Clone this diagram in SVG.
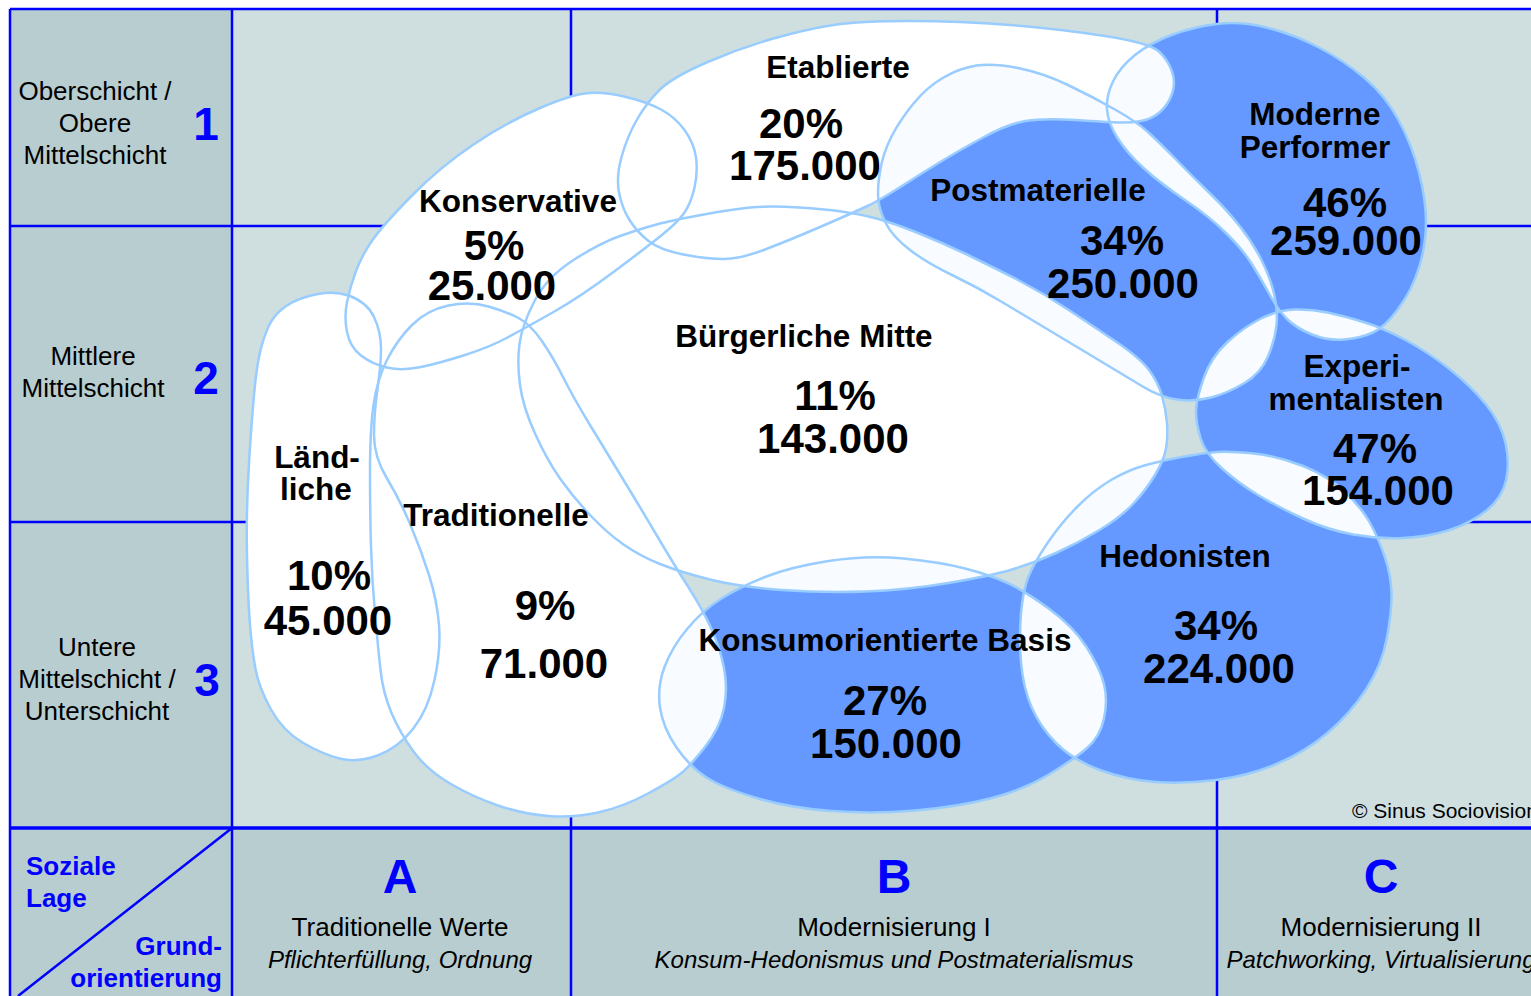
<svg xmlns="http://www.w3.org/2000/svg" width="1531" height="996" viewBox="0 0 1531 996">
<style>
.grid{stroke:#0000ff;stroke-width:2.5;fill:none}
.w{fill:#ffffff}
.b{fill:#6699ff}
.ov{fill:#f8fbff}
.ol{fill:none;stroke:#99ccff;stroke-width:2.5}
text{font-family:"Liberation Sans",Arial,Helvetica,sans-serif}
.lbl{font-size:31.5px;font-weight:bold;fill:#000;text-anchor:middle}
.num{font-size:42px;font-weight:bold;fill:#000;text-anchor:middle}
.side{font-size:26px;fill:#000;text-anchor:middle}
.rank{font-size:46px;font-weight:bold;fill:#0000ff;text-anchor:middle}
.col{font-size:48px;font-weight:bold;fill:#0000ff;text-anchor:middle}
.colt{font-size:26px;fill:#000;text-anchor:middle}
.coli{font-size:24px;font-style:italic;fill:#000;text-anchor:middle}
.corner{font-size:26px;font-weight:bold;fill:#0000ff}
.copy{font-size:21px;fill:#000}
</style>
<defs>
<path id="p-etab" d="M637,119.5 Q647,102 660,89.5 Q673,77 706.5,62.5 Q740,48 773.5,38.5 Q807,29 833.5,25 Q860,21 910,21 Q960,21 1010,25 Q1060,29 1105,36 Q1150,43 1159,51.5 Q1168,60 1172,71.5 Q1176,83 1172,94 Q1168,105 1160,112 Q1152,119 1141,121 Q1130,123 1119,122.5 Q1108,122 1075.5,120 Q1043,118 1025.5,121 Q1008,124 984,137 Q960,150 943.5,160 Q927,170 903.5,185 Q880,200 868.5,205.5 Q857,211 823.5,225.5 Q790,240 765,249.5 Q740,259 723.5,259 Q707,259 683.5,254.5 Q660,250 648.5,241 Q637,232 629.5,220 Q622,208 619,192.5 Q616,177 621.5,157 Q627,137 637,119.5 Z"/>
<path id="p-kons" d="M347,302 Q350,287 356,271 Q362,255 372.5,240 Q383,225 411.5,196 Q440,167 473.5,144.5 Q507,122 540,108 Q573,94 589,93 Q605,92 626,97 Q647,102 661,109.5 Q675,117 684.5,130 Q694,143 696,157.5 Q698,172 694.5,187.5 Q691,203 684.5,212.5 Q678,222 662.5,234.5 Q647,247 613.5,272 Q580,297 553.5,312 Q527,327 508.5,337 Q490,347 465,355 Q440,363 421,367 Q402,371 387,367.5 Q372,364 361,355.5 Q350,347 347,332 Q344,317 347,302 Z"/>
<path id="p-laen" d="M304,297.5 Q330,289 348.5,295.5 Q367,302 374,317 Q381,332 381,348.5 Q381,365 377.5,389 Q374,413 374,435 Q374,457 387,478.5 Q400,500 410.5,525 Q421,550 429,575 Q437,600 439,625 Q441,650 434.5,680 Q428,710 413,729 Q398,748 377.5,755.5 Q357,763 339.5,758.5 Q322,754 302.5,742.5 Q283,731 271,709.5 Q259,688 255.5,669 Q252,650 250,625 Q248,600 247,556.5 Q246,513 249,463 Q252,413 255.5,380 Q259,347 268.5,326.5 Q278,306 304,297.5 Z"/>
<path id="p-trad" d="M448.5,305.5 Q470,301 488.5,306.5 Q507,312 518.5,318 Q530,324 541.5,340.5 Q553,357 563,377 Q573,397 590,425 Q607,453 623.5,480 Q640,507 656.5,535 Q673,563 688,586.5 Q703,610 711.5,629 Q720,648 724,668 Q728,688 724,708 Q720,728 705,747 Q690,766 681.5,773 Q673,780 648,793.5 Q623,807 598,812.5 Q573,818 548,816 Q523,814 498,805.5 Q473,797 450,783.5 Q427,770 413.5,751.5 Q400,733 391.5,713 Q383,693 380.5,670 Q378,647 375,613.5 Q372,580 371,546.5 Q370,513 370,471.5 Q370,430 373.5,405 Q377,380 387,360 Q397,340 412,325 Q427,310 448.5,305.5 Z"/>
<path id="p-mitte" d="M534.5,301 Q547,277 573.5,260 Q600,243 620,236 Q640,229 656.5,224.5 Q673,220 706.5,214 Q740,208 757.5,207 Q775,206 799,207.5 Q823,209 841.5,211.5 Q860,214 876.5,218.5 Q893,223 918,233 Q943,243 968,255 Q993,267 1018,280 Q1043,293 1068,309.5 Q1093,326 1116.5,342 Q1140,358 1149,370 Q1158,382 1162,396 Q1166,410 1167,423.5 Q1168,437 1166,448.5 Q1164,460 1155,475 Q1146,490 1133.5,503.5 Q1121,517 1099.5,530 Q1078,543 1056,553 Q1034,563 1012,569.5 Q990,576 948.5,583 Q907,590 865,591.5 Q823,593 781.5,590 Q740,587 710,579.5 Q680,572 660,564 Q640,556 623.5,544.5 Q607,533 590,515 Q573,497 560,478.5 Q547,460 535,433.5 Q523,407 520,385 Q517,363 519.5,344 Q522,325 534.5,301 Z"/>
<path id="p-post" d="M878.5,201 Q877,190 880,171.5 Q883,153 891.5,136.5 Q900,120 913.5,103.5 Q927,87 943.5,77.5 Q960,68 976.5,65.5 Q993,63 1018,68 Q1043,73 1068,85 Q1093,97 1115,109.5 Q1137,122 1148.5,132.5 Q1160,143 1176.5,160 Q1193,177 1210,193.5 Q1227,210 1240,226.5 Q1253,243 1261.5,260 Q1270,277 1274,293.5 Q1278,310 1276.5,325 Q1275,340 1268,356.5 Q1261,373 1244.5,383 Q1228,393 1211,397.5 Q1194,402 1177,399.5 Q1160,397 1143.5,387 Q1127,377 1102,362 Q1077,347 1052,332 Q1027,317 1002,302 Q977,287 952,275 Q927,263 910,250 Q893,237 886.5,224.5 Q880,212 878.5,201 Z"/>
<path id="p-mp" d="M1135,55 Q1150,43 1171.5,35 Q1193,27 1216.5,24 Q1240,21 1266.5,27.5 Q1293,34 1318,47 Q1343,60 1364,77.5 Q1385,95 1398.5,120 Q1412,145 1419,172.5 Q1426,200 1426,222.5 Q1426,245 1419,267.5 Q1412,290 1398.5,308.5 Q1385,327 1373,332.5 Q1361,338 1344.5,339.5 Q1328,341 1312,334.5 Q1296,328 1287,319 Q1278,310 1269,293.5 Q1260,277 1251.5,263.5 Q1243,250 1226.5,233.5 Q1210,217 1185,200 Q1160,183 1143.5,168 Q1127,153 1117.5,138 Q1108,123 1107,109.5 Q1106,96 1113,81.5 Q1120,67 1135,55 Z"/>
<path id="p-exp" d="M1261,318.5 Q1278,310 1294.5,309.5 Q1311,309 1327.5,312.5 Q1344,316 1363.5,322 Q1383,328 1405.5,340 Q1428,352 1449.5,369 Q1471,386 1486,404.5 Q1501,423 1505.5,443 Q1510,463 1506,480.5 Q1502,498 1486.5,510.5 Q1471,523 1449.5,530 Q1428,537 1403,538 Q1378,539 1353,534.5 Q1328,530 1303,518.5 Q1278,507 1258,495 Q1238,483 1221.5,468 Q1205,453 1200.5,438 Q1196,423 1196,411.5 Q1196,400 1203.5,378.5 Q1211,357 1227.5,342 Q1244,327 1261,318.5 Z"/>
<path id="p-hed" d="M1028.5,576.5 Q1034,563 1047.5,543 Q1061,523 1077.5,506.5 Q1094,490 1111,480 Q1128,470 1146,465 Q1164,460 1184,456.5 Q1204,453 1217,452 Q1230,451 1254,453.5 Q1278,456 1303,466 Q1328,476 1344.5,491.5 Q1361,507 1369.5,522 Q1378,537 1384.5,556 Q1391,575 1391.5,592.5 Q1392,610 1387,637.5 Q1382,665 1366,689.5 Q1350,714 1327.5,733 Q1305,752 1276.5,764 Q1248,776 1216,780 Q1184,784 1155.5,782 Q1127,780 1100,770 Q1073,760 1056.5,743.5 Q1040,727 1031.5,707 Q1023,687 1021,662 Q1019,637 1021,613.5 Q1023,590 1028.5,576.5 Z"/>
<path id="p-kb" d="M687.5,628.5 Q703,610 721.5,598.5 Q740,587 765,577 Q790,567 828.5,561 Q867,555 903.5,558.5 Q940,562 965,568.5 Q990,575 1006.5,582.5 Q1023,590 1048,608 Q1073,626 1086.5,647 Q1100,668 1104,684 Q1108,700 1104,718.5 Q1100,737 1086.5,748.5 Q1073,760 1048,775 Q1023,790 990,798.5 Q957,807 915,810.5 Q873,814 831.5,811 Q790,808 756.5,798 Q723,788 706.5,777.5 Q690,767 676.5,747.5 Q663,728 660,707.5 Q657,687 664.5,667 Q672,647 687.5,628.5 Z"/>
<clipPath id="c-post"><use href="#p-etab"/><use href="#p-kons"/><use href="#p-laen"/><use href="#p-trad"/><use href="#p-mitte"/><use href="#p-mp"/><use href="#p-exp"/><use href="#p-hed"/><use href="#p-kb"/></clipPath>
<clipPath id="c-mp"><use href="#p-etab"/><use href="#p-kons"/><use href="#p-laen"/><use href="#p-trad"/><use href="#p-mitte"/><use href="#p-post"/><use href="#p-exp"/><use href="#p-hed"/><use href="#p-kb"/></clipPath>
<clipPath id="c-exp"><use href="#p-etab"/><use href="#p-kons"/><use href="#p-laen"/><use href="#p-trad"/><use href="#p-mitte"/><use href="#p-post"/><use href="#p-mp"/><use href="#p-hed"/><use href="#p-kb"/></clipPath>
<clipPath id="c-hed"><use href="#p-etab"/><use href="#p-kons"/><use href="#p-laen"/><use href="#p-trad"/><use href="#p-mitte"/><use href="#p-post"/><use href="#p-mp"/><use href="#p-exp"/><use href="#p-kb"/></clipPath>
<clipPath id="c-kb"><use href="#p-etab"/><use href="#p-kons"/><use href="#p-laen"/><use href="#p-trad"/><use href="#p-mitte"/><use href="#p-post"/><use href="#p-mp"/><use href="#p-exp"/><use href="#p-hed"/></clipPath>
</defs>

<g id="background">
<rect x="0" y="0" width="1531" height="996" fill="#ffffff"/>
<rect x="10" y="9" width="1521" height="987" fill="#cfdfe0"/>
<rect x="10" y="9" width="222" height="819" fill="#b8cdd0"/>
<rect x="10" y="828" width="1521" height="168" fill="#b8cdd0"/>
</g>
<g id="grid">
<path class="grid" d="M10,9H1531 M10,9V996 M232,9V996 M571,9V996 M1217,9V996 M10,226H1531 M10,522H1531 M232,828L18,996"/>
<path d="M10,828H1531" stroke="#0000ff" stroke-width="3.5" fill="none"/>
</g>

<g id="milieu-fills">
<use href="#p-etab" class="w"/>
<use href="#p-kons" class="w"/>
<use href="#p-laen" class="w"/>
<use href="#p-trad" class="w"/>
<use href="#p-mitte" class="w"/>
<use href="#p-post" class="b"/>
<use href="#p-mp" class="b"/>
<use href="#p-exp" class="b"/>
<use href="#p-hed" class="b"/>
<use href="#p-kb" class="b"/>
</g>
<g id="milieu-overlaps">
<use href="#p-post" class="ov" clip-path="url(#c-post)"/>
<use href="#p-mp" class="ov" clip-path="url(#c-mp)"/>
<use href="#p-exp" class="ov" clip-path="url(#c-exp)"/>
<use href="#p-hed" class="ov" clip-path="url(#c-hed)"/>
<use href="#p-kb" class="ov" clip-path="url(#c-kb)"/>
</g>
<g id="milieu-outlines">
<use href="#p-etab" class="ol"/>
<use href="#p-kons" class="ol"/>
<use href="#p-laen" class="ol"/>
<use href="#p-trad" class="ol"/>
<use href="#p-mitte" class="ol"/>
<use href="#p-post" class="ol"/>
<use href="#p-mp" class="ol"/>
<use href="#p-exp" class="ol"/>
<use href="#p-hed" class="ol"/>
<use href="#p-kb" class="ol"/>
</g>

<g id="axis-soziale-lage">
<text class="side" x="95" y="100">Oberschicht /</text>
<text class="side" x="95" y="132">Obere</text>
<text class="side" x="95" y="164">Mittelschicht</text>
<text class="rank" x="206" y="140">1</text>
<text class="side" x="93" y="365">Mittlere</text>
<text class="side" x="93" y="397">Mittelschicht</text>
<text class="rank" x="206" y="394">2</text>
<text class="side" x="97" y="656">Untere</text>
<text class="side" x="97" y="688">Mittelschicht /</text>
<text class="side" x="97" y="720">Unterschicht</text>
<text class="rank" x="207" y="696">3</text>
</g>
<g id="axis-grundorientierung">
<text class="corner" x="26" y="875">Soziale</text>
<text class="corner" x="26" y="907">Lage</text>
<text class="corner" x="222" y="955" text-anchor="end">Grund-</text>
<text class="corner" x="222" y="987" text-anchor="end">orientierung</text>
<text class="col" x="400" y="893">A</text>
<text class="colt" x="400" y="936">Traditionelle Werte</text>
<text class="coli" x="400" y="968">Pflichterfüllung, Ordnung</text>
<text class="col" x="894" y="893">B</text>
<text class="colt" x="894" y="936">Modernisierung I</text>
<text class="coli" x="894" y="968">Konsum-Hedonismus und Postmaterialismus</text>
<text class="col" x="1381" y="893">C</text>
<text class="colt" x="1381" y="936">Modernisierung II</text>
<text class="coli" x="1381" y="968">Patchworking, Virtualisierung</text>
</g>
<text class="copy" x="1352" y="818">© Sinus Sociovision</text>

<g id="etablierte">
<text class="lbl" x="838" y="78">Etablierte</text>
<text class="num" x="801" y="138">20%</text>
<text class="num" x="805" y="180">175.000</text>
</g>
<g id="konservative">
<text class="lbl" x="518" y="212">Konservative</text>
<text class="num" x="494" y="260">5%</text>
<text class="num" x="492" y="300">25.000</text>
</g>
<g id="moderne-performer">
<text class="lbl" x="1315" y="125">Moderne</text>
<text class="lbl" x="1315" y="158">Performer</text>
<text class="num" x="1345" y="217">46%</text>
<text class="num" x="1346" y="255">259.000</text>
</g>
<g id="postmaterielle">
<text class="lbl" x="1038" y="201">Postmaterielle</text>
<text class="num" x="1122" y="255">34%</text>
<text class="num" x="1123" y="298">250.000</text>
</g>
<g id="buergerliche-mitte">
<text class="lbl" x="804" y="347">Bürgerliche Mitte</text>
<text class="num" x="835" y="410">11%</text>
<text class="num" x="833" y="453">143.000</text>
</g>
<g id="experimentalisten">
<text class="lbl" x="1357" y="377">Experi-</text>
<text class="lbl" x="1356" y="410">mentalisten</text>
<text class="num" x="1375" y="463">47%</text>
<text class="num" x="1378" y="505">154.000</text>
</g>
<g id="laendliche">
<text class="lbl" x="317" y="468">Länd-</text>
<text class="lbl" x="316" y="500">liche</text>
<text class="num" x="329" y="590">10%</text>
<text class="num" x="328" y="635">45.000</text>
</g>
<g id="traditionelle">
<text class="lbl" x="496" y="526">Traditionelle</text>
<text class="num" x="545" y="620">9%</text>
<text class="num" x="544" y="678">71.000</text>
</g>
<g id="hedonisten">
<text class="lbl" x="1185" y="567">Hedonisten</text>
<text class="num" x="1216" y="640">34%</text>
<text class="num" x="1219" y="683">224.000</text>
</g>
<g id="konsumorientierte-basis">
<text class="lbl" x="885" y="651">Konsumorientierte Basis</text>
<text class="num" x="885" y="715">27%</text>
<text class="num" x="886" y="758">150.000</text>
</g>
</svg>
